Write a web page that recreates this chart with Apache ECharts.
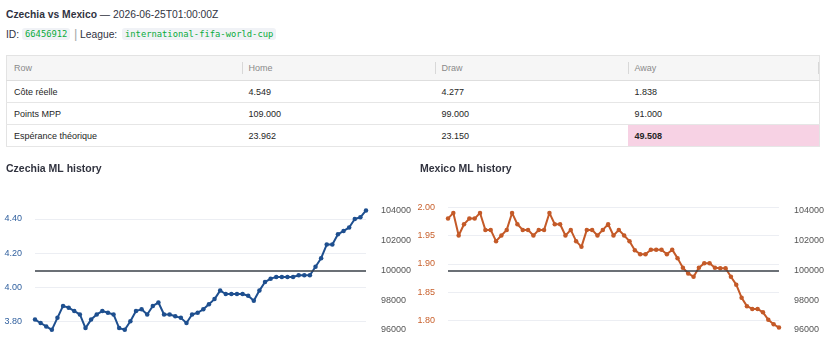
<!DOCTYPE html>
<html>
<head>
<meta charset="utf-8">
<script src="https://cdn.jsdelivr.net/npm/echarts@6/dist/echarts.min.js"></script>
<style>
  html, body { margin:0; padding:0; background:#fff; width:827px; height:352px; overflow:hidden; }
  body { font-family:'Liberation Sans', Arial, sans-serif; color:#31333f; position:relative; }
  .abs { position:absolute; white-space:nowrap; }
  .code { font-family:'DejaVu Sans Mono', monospace; font-size:8.8px; color:#09ab3b; background:#f0f2f6; border-radius:3px; height:12px; line-height:12px; padding:0 3px; }
  table { position:absolute; left:6px; top:55px; width:813px; border-collapse:collapse; table-layout:fixed; font-size:9px; border:1px solid #e3e3e3; }
  th, td { padding:0 0 0 7px; text-align:left; overflow:hidden; white-space:nowrap; position:relative; }
  th { height:24px; background:#f6f6f6; color:#8a8a8a; font-weight:normal; border-bottom:1px solid #dedede; }
  td { height:21px; color:#262626; border-bottom:1px solid #e6e6e6; }
  th i { position:absolute; left:0; top:6px; bottom:6px; width:1px; background:#d8d8d8; }
  th i.r { left:auto; right:0; }
  td.hl { background:#f7d2e4; font-weight:bold; }
  #chart { position:absolute; left:0; top:150px; width:827px; height:202px; }
</style>
</head>
<body>
<div class="abs" style="left:6px;top:9px;height:12px;line-height:12px;font-size:10.3px;"><b>Czechia vs Mexico</b> — 2026-06-25T01:00:00Z</div>
<div class="abs" style="left:6px;top:28px;height:13px;line-height:13px;font-size:10.3px;">ID:</div>
<div class="abs code" style="left:22px;top:28px;">66456912</div>
<div class="abs" style="left:74px;top:26px;height:16px;line-height:16px;font-size:13px;color:#aaa;">|</div>
<div class="abs" style="left:80px;top:28px;height:13px;line-height:13px;font-size:10.3px;">League:</div>
<div class="abs code" style="left:122px;top:28px;">international-fifa-world-cup</div>

<table>
  <colgroup><col style="width:235px"><col style="width:193px"><col style="width:193px"><col style="width:192px"></colgroup>
  <thead>
    <tr><th>Row</th><th><i></i>Home</th><th><i></i>Draw</th><th><i></i>Away<i class="r"></i></th></tr>
  </thead>
  <tbody>
    <tr><td>Côte réelle</td><td>4.549</td><td>4.277</td><td>1.838</td></tr>
    <tr><td>Points MPP</td><td>109.000</td><td>99.000</td><td>91.000</td></tr>
    <tr><td>Espérance théorique</td><td>23.962</td><td>23.150</td><td class="hl">49.508</td></tr>
  </tbody>
</table>

<div id="chart"></div>
<script>
// ---- data ----
const czechiaTitle = 'Czechia ML history';
const mexicoTitle = 'Mexico ML history';
const czechiaOdds = [3.81, 3.79, 3.77, 3.75, 3.82, 3.89, 3.88, 3.86, 3.84, 3.76,
                     3.81, 3.84, 3.86, 3.85, 3.84, 3.76, 3.75, 3.80, 3.86, 3.87,
                     3.84, 3.89, 3.91, 3.84, 3.84, 3.83, 3.82, 3.79, 3.84, 3.85,
                     3.87, 3.90, 3.93, 3.98, 3.96, 3.96, 3.96, 3.96, 3.95, 3.92,
                     3.98, 4.03, 4.05, 4.06, 4.06, 4.06, 4.06, 4.07, 4.07, 4.07,
                     4.12, 4.17, 4.25, 4.25, 4.31, 4.33, 4.35, 4.40, 4.41, 4.45];
const mexicoOdds = [1.98, 1.99, 1.95, 1.97, 1.98, 1.98, 1.99, 1.96, 1.96, 1.94,
                    1.95, 1.96, 1.99, 1.97, 1.96, 1.96, 1.95, 1.96, 1.96, 1.99,
                    1.97, 1.97, 1.95, 1.96, 1.94, 1.93, 1.96, 1.96, 1.95, 1.96,
                    1.97, 1.95, 1.96, 1.95, 1.94, 1.924, 1.917, 1.917, 1.925, 1.925,
                    1.925, 1.917, 1.925, 1.91, 1.893, 1.883, 1.877, 1.893, 1.901, 1.901,
                    1.893, 1.892, 1.892, 1.877, 1.863, 1.84, 1.825, 1.82, 1.82, 1.814,
                    1.801, 1.793, 1.787];
const czechiaSteps = czechiaOdds.map((_, i) => String(i + 1));
const mexicoSteps = mexicoOdds.map((_, i) => String(i + 1));
const bankrollBaseline = 100000;
const czechiaOddsRange = [3.743, 4.4704];
const mexicoOddsRange = [1.781, 2.0005];
const bankrollRange = [95933, 104248];

// ---- styles ----
const FONT = "'Liberation Sans', Arial, sans-serif";
const blue = '#1e4f8f', blueLabel = '#2f5f9e';
const orange = '#c45a28', orangeLabel = '#c8602c';
const gridColor = '#eceef3';

function leftAxis(gridIndex, range, color) {
  return {
    type: 'value', gridIndex, position: 'left', min: range[0], max: range[1], splitNumber: 4,
    axisLine: { show: false }, axisTick: { show: false },
    axisLabel: { color, fontSize: 9, fontFamily: FONT, margin: 13, showMinLabel: false, showMaxLabel: false,
                 formatter: v => v.toFixed(2) },
    splitLine: { show: true, showMinLine: false, showMaxLine: false, lineStyle: { color: gridColor, width: 1 } }
  };
}
function rightAxis(gridIndex) {
  return {
    type: 'value', gridIndex, position: 'right', min: bankrollRange[0], max: bankrollRange[1], splitNumber: 4,
    axisLine: { show: false }, axisTick: { show: false },
    axisLabel: { color: '#555', fontSize: 9, fontFamily: FONT, margin: 15, showMinLabel: false, showMaxLabel: false,
                 formatter: v => String(Math.round(v)) },
    splitLine: { show: false }
  };
}
function oddsSeries(idx, data, color) {
  return {
    type: 'line', xAxisIndex: idx, yAxisIndex: idx * 2, data,
    symbol: 'circle', symbolSize: 4.5, showSymbol: true, showAllSymbol: true,
    lineStyle: { color, width: 2 }, itemStyle: { color }, z: 3, silent: true, animation: false
  };
}
function baselineSeries(idx) {
  return {
    type: 'line', xAxisIndex: idx, yAxisIndex: idx * 2 + 1, data: [], silent: true, animation: false,
    markLine: { silent: true, symbol: ['none', 'none'], label: { show: false }, animation: false,
                lineStyle: { color: '#3a4049', width: 1.5, type: 'solid' },
                data: [{ yAxis: bankrollBaseline }] }
  };
}

const titleStyle = { fontSize: 10.5, fontWeight: 'bold', color: '#31333f', fontFamily: FONT };
const chart = echarts.init(document.getElementById('chart'), null, { renderer: 'canvas' });
chart.setOption({
  animation: false,
  textStyle: { fontFamily: FONT },
  title: [
    { text: czechiaTitle, left: 6, top: 14, padding: 0, textStyle: titleStyle },
    { text: mexicoTitle, left: 420, top: 14, padding: 0, textStyle: titleStyle }
  ],
  grid: [
    { left: 35, top: 57, width: 331, height: 124 },
    { left: 448, top: 57, width: 332, height: 124 }
  ],
  xAxis: [
    { type: 'category', gridIndex: 0, data: czechiaSteps, boundaryGap: false, show: false },
    { type: 'category', gridIndex: 1, data: mexicoSteps, boundaryGap: false, show: false }
  ],
  yAxis: [
    leftAxis(0, czechiaOddsRange, blueLabel),
    rightAxis(0),
    leftAxis(1, mexicoOddsRange, orangeLabel),
    rightAxis(1)
  ],
  series: [
    baselineSeries(0),
    oddsSeries(0, czechiaOdds, blue),
    baselineSeries(1),
    oddsSeries(1, mexicoOdds, orange)
  ]
});
</script>
</body>
</html>
